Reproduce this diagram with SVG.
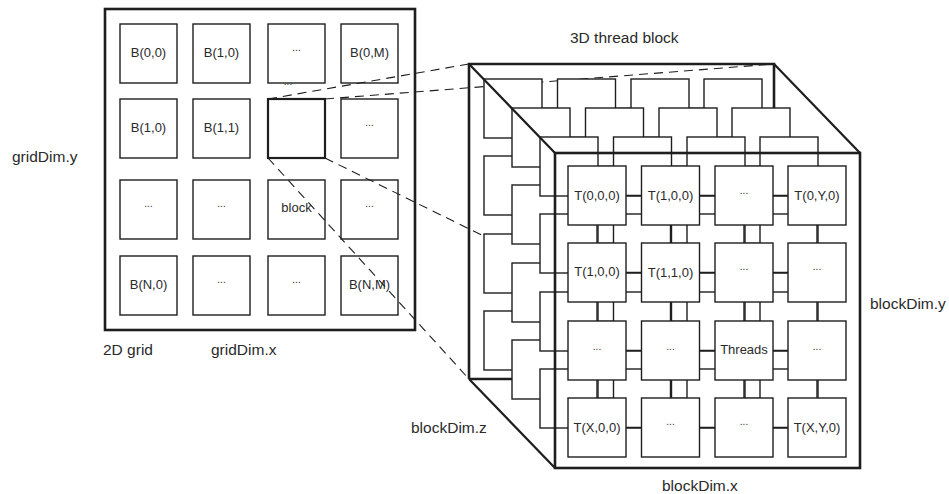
<svg xmlns="http://www.w3.org/2000/svg" width="949" height="494" viewBox="0 0 949 494">
<style>
.frame{fill:none;stroke:#1e1e1e;stroke-width:2.6}
.box{fill:#fff;stroke:#1e1e1e;stroke-width:1.4}
.gbox{fill:none;stroke:#1e1e1e;stroke-width:1.4}
.hl{fill:none;stroke:#1e1e1e;stroke-width:2.2}
.con{fill:none;stroke:#1e1e1e;stroke-width:1.4}
.dash{fill:none;stroke:#1e1e1e;stroke-width:1.1;stroke-dasharray:9 6}
.edge{fill:none;stroke:#1e1e1e;stroke-width:2.2}
text{font-family:"Liberation Sans",Arial,Helvetica,sans-serif;fill:#2a2a2a}
.t{font-size:13px;text-anchor:middle}
.d{font-size:10px;text-anchor:middle}
.lbl{font-size:15.5px}
</style>
<defs>
<g id="layer">
<path class="con" d="M58 29.5H73.5M131.5 29.5H147M205 29.5H220M58 106.5H73.5M131.5 106.5H147M205 106.5H220M58 184.5H73.5M131.5 184.5H147M205 184.5H220M58 261.5H73.5M131.5 261.5H147M205 261.5H220M29 59V77M29 136V155M29 214V232M102.5 59V77M102.5 136V155M102.5 214V232M176 59V77M176 136V155M176 214V232M249 59V77M249 136V155M249 214V232"/>
<rect class="box" x="0" y="0" width="58" height="59"/><rect class="box" x="73.5" y="0" width="58" height="59"/><rect class="box" x="147" y="0" width="58" height="59"/><rect class="box" x="220" y="0" width="58" height="59"/>
<rect class="box" x="0" y="77" width="58" height="59"/><rect class="box" x="73.5" y="77" width="58" height="59"/><rect class="box" x="147" y="77" width="58" height="59"/><rect class="box" x="220" y="77" width="58" height="59"/>
<rect class="box" x="0" y="155" width="58" height="59"/><rect class="box" x="73.5" y="155" width="58" height="59"/><rect class="box" x="147" y="155" width="58" height="59"/><rect class="box" x="220" y="155" width="58" height="59"/>
<rect class="box" x="0" y="232" width="58" height="59"/><rect class="box" x="73.5" y="232" width="58" height="59"/><rect class="box" x="147" y="232" width="58" height="59"/><rect class="box" x="220" y="232" width="58" height="59"/>
</g>
</defs>

<!-- 2D grid -->
<g id="grid">
<rect class="frame" x="105" y="9" width="310" height="321"/>
</g>
<g id="b00"><rect class="gbox" x="120" y="24" width="57" height="59"/><text class="t" x="148.5" y="56.5">B(0,0)</text></g>
<g id="b10a"><rect class="gbox" x="193" y="24" width="57" height="59"/><text class="t" x="221.5" y="56.5">B(1,0)</text></g>
<g id="b20"><rect class="gbox" x="268" y="24" width="57" height="59"/><text class="d" x="296.5" y="51">...</text></g>
<g id="b0m"><rect class="gbox" x="341" y="24" width="57" height="59"/><text class="t" x="369.5" y="56.5">B(0,M)</text></g>
<g id="b10"><rect class="gbox" x="120" y="99" width="57" height="59"/><text class="t" x="148.5" y="131.5">B(1,0)</text></g>
<g id="b11"><rect class="gbox" x="193" y="99" width="57" height="59"/><text class="t" x="221.5" y="131.5">B(1,1)</text></g>
<g id="bsel"><rect class="hl" x="268" y="99" width="57" height="59"/></g>
<g id="b31"><rect class="gbox" x="341" y="99" width="57" height="59"/><text class="d" x="369.5" y="126">...</text></g>
<g id="b02"><rect class="gbox" x="120" y="180" width="57" height="59"/><text class="d" x="148.5" y="207">...</text></g>
<g id="b12"><rect class="gbox" x="193" y="180" width="57" height="59"/><text class="d" x="221.5" y="207">...</text></g>
<g id="bblock"><rect class="gbox" x="268" y="180" width="57" height="59"/><text class="t" x="296.5" y="212">block</text></g>
<g id="b32"><rect class="gbox" x="341" y="180" width="57" height="59"/><text class="d" x="369.5" y="207">...</text></g>
<g id="bn0"><rect class="gbox" x="120" y="256" width="57" height="59"/><text class="t" x="148.5" y="288.5">B(N,0)</text></g>
<g id="b13"><rect class="gbox" x="193" y="256" width="57" height="59"/><text class="d" x="221.5" y="283">...</text></g>
<g id="b23"><rect class="gbox" x="268" y="256" width="57" height="59"/><text class="d" x="296.5" y="283">...</text></g>
<g id="bnm"><rect class="gbox" x="341" y="256" width="57" height="59"/><text class="t" x="369.5" y="288.5">B(N,M)</text></g>
<text class="d" x="288" y="85">...</text>

<!-- connectors -->
<g id="connectors">
<path class="dash" d="M268 99L469 64M325 99L774 64M268 158L469 379M325 158L774 379"/>
</g>

<!-- 3D thread block -->
<g id="cube">
<path class="frame" d="M469 379V64H774V379H469"/>
<use href="#layer" transform="translate(484,79)"/>
<use href="#layer" transform="translate(512,108)"/>
<use href="#layer" transform="translate(540,137)"/>
<path class="con" d="M626 195.5H641.5M699.5 195.5H715M773 195.5H788M626 272.5H641.5M699.5 272.5H715M773 272.5H788M626 350.5H641.5M699.5 350.5H715M773 350.5H788M626 427.5H641.5M699.5 427.5H715M773 427.5H788M597 225V243M597 302V321M597 380V398M670.5 225V243M670.5 302V321M670.5 380V398M744 225V243M744 302V321M744 380V398M817 225V243M817 302V321M817 380V398"/>
</g>
<g id="t000"><rect class="box" x="568" y="166" width="58" height="59"/><text class="t" x="597" y="199.5">T(0,0,0)</text></g>
<g id="t100a"><rect class="box" x="641.5" y="166" width="58" height="59"/><text class="t" x="670.5" y="199.5">T(1,0,0)</text></g>
<g id="t200"><rect class="box" x="715" y="166" width="58" height="59"/><text class="d" x="744" y="194">...</text></g>
<g id="t0y0"><rect class="box" x="788" y="166" width="58" height="59"/><text class="t" x="817" y="199.5">T(0,Y,0)</text></g>
<g id="t100"><rect class="box" x="568" y="243" width="58" height="59"/><text class="t" x="597" y="275.5">T(1,0,0)</text></g>
<g id="t110"><rect class="box" x="641.5" y="243" width="58" height="59"/><text class="t" x="670.5" y="276.5">T(1,1,0)</text></g>
<g id="t210"><rect class="box" x="715" y="243" width="58" height="59"/><text class="d" x="744" y="270">...</text></g>
<g id="t310"><rect class="box" x="788" y="243" width="58" height="59"/><text class="d" x="817" y="270">...</text></g>
<g id="t020"><rect class="box" x="568" y="321" width="58" height="59"/><text class="d" x="597" y="350">...</text></g>
<g id="t120"><rect class="box" x="641.5" y="321" width="58" height="59"/><text class="d" x="670.5" y="350">...</text></g>
<g id="threads"><rect class="box" x="715" y="321" width="58" height="59"/><text class="t" x="744" y="354">Threads</text></g>
<g id="t320"><rect class="box" x="788" y="321" width="58" height="59"/><text class="d" x="817" y="350">...</text></g>
<g id="tx00"><rect class="box" x="568" y="398" width="58" height="59"/><text class="t" x="597" y="431.5">T(X,0,0)</text></g>
<g id="t130"><rect class="box" x="641.5" y="398" width="58" height="59"/><text class="d" x="670.5" y="425">...</text></g>
<g id="t230"><rect class="box" x="715" y="398" width="58" height="59"/><text class="d" x="744" y="425">...</text></g>
<g id="txy0"><rect class="box" x="788" y="398" width="58" height="59"/><text class="t" x="817" y="431.5">T(X,Y,0)</text></g>
<g id="cube-front">
<path class="edge" d="M469 64L555 153M774 64L860 153M469 379L555 468"/>
<rect class="frame" x="555" y="153" width="305" height="315"/>
</g>

<!-- labels -->
<text class="lbl" x="12" y="162">gridDim.y</text>
<text class="lbl" x="103" y="355">2D grid</text>
<text class="lbl" x="211" y="355">gridDim.x</text>
<text class="lbl" x="570" y="43">3D thread block</text>
<text class="lbl" x="411" y="433">blockDim.z</text>
<text class="lbl" x="662" y="491">blockDim.x</text>
<text class="lbl" x="870" y="309">blockDim.y</text>
</svg>
